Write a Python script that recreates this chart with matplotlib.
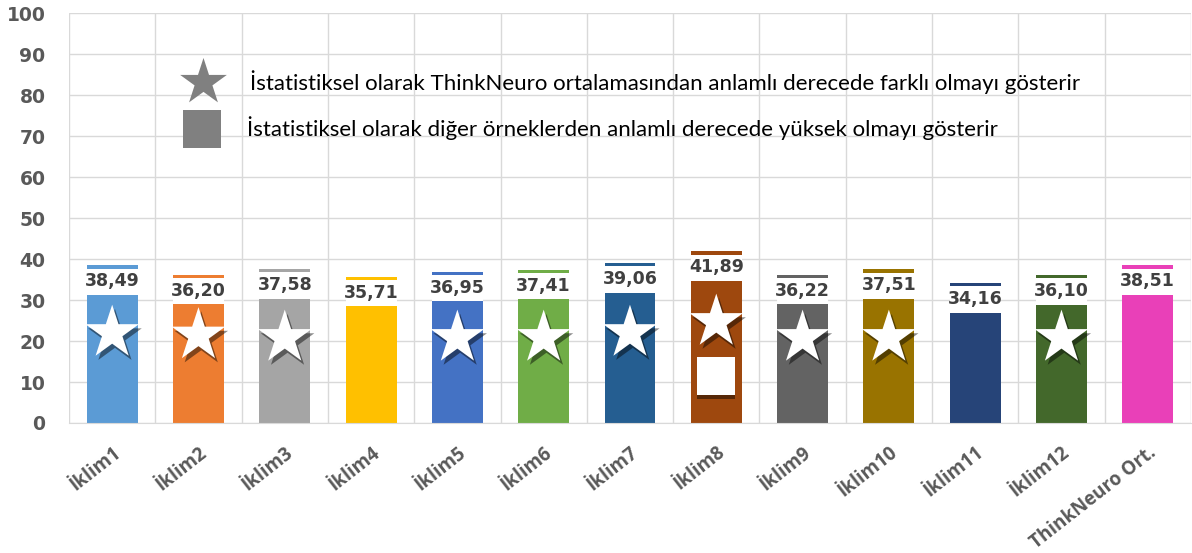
import matplotlib
matplotlib.use('Agg')
import matplotlib.pyplot as plt
import matplotlib.patheffects as pe
import matplotlib.transforms as mtransforms
import numpy as np

# Données
kategoriler = ['İklim1', 'İklim2', 'İklim3', 'İklim4', 'İklim5', 'İklim6', 'İklim7',
               'İklim8', 'İklim9', 'İklim10', 'İklim11', 'İklim12', 'ThinkNeuro Ort.']
degerler = [38.49, 36.20, 37.58, 35.71, 36.95, 37.41, 39.06,
            41.89, 36.22, 37.51, 34.16, 36.10, 38.51]
etiketler = ['38,49', '36,20', '37,58', '35,71', '36,95', '37,41', '39,06',
             '41,89', '36,22', '37,51', '34,16', '36,10', '38,51']
renkler = ['#5B9BD5', '#ED7D31', '#A5A5A5', '#FFC000', '#4472C4', '#70AD47', '#255E91',
           '#9E480E', '#636363', '#997300', '#264478', '#43682B', '#E940B8']
yildiz_idx = [0, 1, 2, 4, 5, 6, 7, 8, 9, 11]
yildiz_y = [22.0, 21.4, 20.8, 20.8, 20.8, 22.0, 24.7, 20.8, 20.8, 20.8]
kare_idx = [7]
kare_y = [11.5]

legend_1 = 'İstatistiksel olarak ThinkNeuro ortalamasından anlamlı derecede farklı olmayı gösterir'
legend_2 = 'İstatistiksel olarak diğer örneklerden anlamlı derecede yüksek olmayı gösterir'

fig = plt.figure(figsize=(11.92, 5.53), dpi=100)
ax = fig.add_axes([0.0579, 0.2351, 0.9412, 0.7405])

x = np.arange(len(kategoriler))
genislik = 0.59

ax.bar(x, degerler, width=genislik, color=renkler, zorder=2)

# Etiket kutuları (beyaz) barın tepesinin hemen altında
for i, v in enumerate(degerler):
    ax.bar(x[i], 6.4, bottom=v - 7.2, width=genislik, color='white', zorder=3)
    ax.text(x[i], v - 3.9, etiketler[i], ha='center', va='center', fontsize=12.5,
            fontweight='bold', color='#404040', zorder=4)

# Yıldızlar ve kare (gölgeli)
for i, yy in zip(yildiz_idx, yildiz_y):
    ax.scatter(x[i], yy, marker='*', s=1650, color='white', zorder=5, linewidths=0,
               path_effects=[pe.SimplePatchShadow(offset=(2, -3), shadow_rgbFace='black', alpha=0.45),
                             pe.Normal()])
for i, yy in zip(kare_idx, kare_y):
    ax.scatter(x[i], yy, marker='s', s=760, color='white', zorder=5, linewidths=0,
               path_effects=[pe.SimplePatchShadow(offset=(0, -3), shadow_rgbFace='black', alpha=0.45),
                             pe.Normal()])

# Açıklamalar
ax.scatter(1.05, 83.2, marker='*', s=1250, color='#808080', zorder=5, linewidths=0)
ax.scatter(1.04, 71.9, marker='s', s=750, color='#808080', zorder=5, linewidths=0)
ax.text(1.6, 83.2, legend_1, fontsize=16, family='Lato', va='center', ha='left', color='black', zorder=6)
ax.text(1.56, 71.9, legend_2, fontsize=16, family='Lato', va='center', ha='left', color='black', zorder=6)

# Eksenler
ax.set_xlim(-0.5, len(kategoriler) - 0.5)
ax.set_ylim(0, 100)
ax.set_yticks(np.arange(0, 101, 10))
ax.set_xticks(x)
ax.set_xticklabels(kategoriler, rotation=38, ha='right', va='top', rotation_mode='anchor',
                   fontsize=13.5, fontweight='bold', family='Open Sans', color='#595959')
kaydir = mtransforms.ScaledTranslation(5 / 100, 0, fig.dpi_scale_trans)
for lab in ax.get_xticklabels():
    lab.set_transform(lab.get_transform() + kaydir)
ax.set_xticks(np.arange(-0.5, len(kategoriler), 0.5), minor=True)
ax.tick_params(axis='y', labelsize=13.5, labelcolor='#595959', length=0, pad=17)
for lab in ax.get_yticklabels():
    lab.set_fontweight('bold')
ax.tick_params(axis='x', which='both', length=0, pad=14)

ax.grid(True, axis='y', color='#D9D9D9', linewidth=1, zorder=0)
ax.grid(True, axis='x', which='minor', color='#D9D9D9', linewidth=1, zorder=0)
ax.grid(False, axis='x', which='major')
for s in ['top', 'right', 'left']:
    ax.spines[s].set_visible(False)
ax.spines['bottom'].set_color('#D9D9D9')
ax.set_axisbelow(True)

plt.savefig('out.png', dpi=100)
